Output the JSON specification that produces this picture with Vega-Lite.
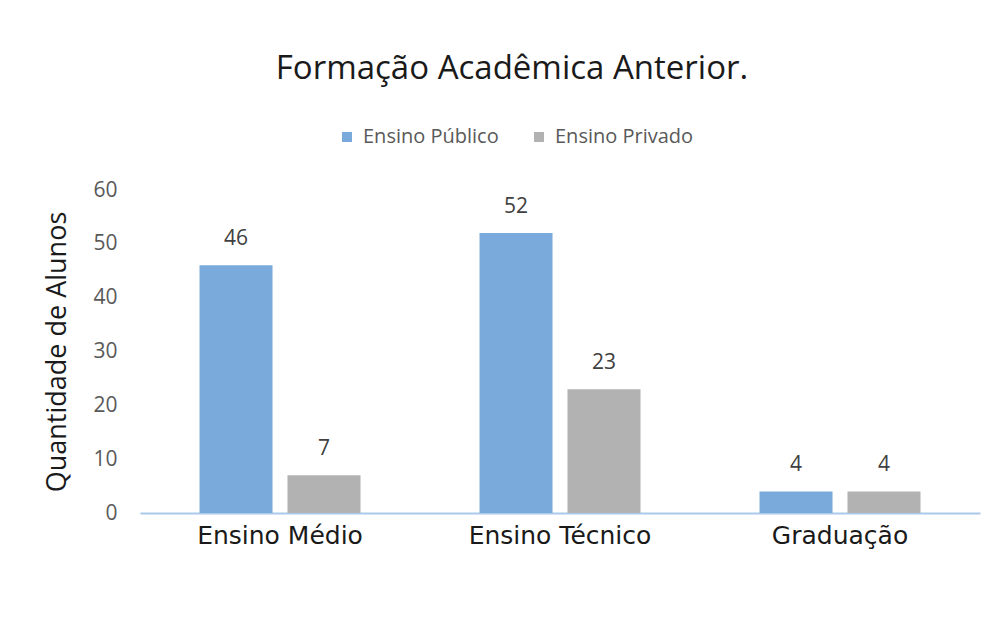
{
  "$schema": "https://vega.github.io/schema/vega-lite/v6.json",
  "width": 840,
  "height": 323,
  "autosize": "none",
  "padding": {"left": 140, "top": 190, "right": 15, "bottom": 115},
  "background": "white",
  "title": {
    "text": "Formação Acadêmica Anterior.",
    "anchor": "middle",
    "frame": "bounds",
    "offset": 41,
    "font": "Open Sans",
    "fontSize": 33,
    "fontWeight": "normal",
    "color": "#1a1a1a"
  },
  "data": {
    "values": [
      {"categoria": "Ensino Médio", "rede": "Ensino Público", "alunos": 46},
      {"categoria": "Ensino Médio", "rede": "Ensino Privado", "alunos": 7},
      {"categoria": "Ensino Técnico", "rede": "Ensino Público", "alunos": 52},
      {"categoria": "Ensino Técnico", "rede": "Ensino Privado", "alunos": 23},
      {"categoria": "Graduação", "rede": "Ensino Público", "alunos": 4},
      {"categoria": "Graduação", "rede": "Ensino Privado", "alunos": 4}
    ]
  },
  "encoding": {
    "x": {
      "field": "categoria",
      "type": "nominal",
      "sort": ["Ensino Médio", "Ensino Técnico", "Graduação"],
      "scale": {"paddingInner": 0.425, "paddingOuter": 0.2125},
      "axis": {
        "title": null,
        "labelAngle": 0,
        "ticks": false,
        "domainColor": "#a9c9ea",
        "domainWidth": 2,
        "labelFont": "DejaVu Sans",
        "labelFontSize": 25,
        "labelColor": "#1a1a1a",
        "labelPadding": 10,
        "labelLimit": 0,
        "labelOverlap": false
      }
    },
    "xOffset": {
      "field": "rede",
      "type": "nominal",
      "sort": ["Ensino Público", "Ensino Privado"],
      "scale": {"paddingInner": 0.17, "paddingOuter": 0}
    },
    "y": {
      "field": "alunos",
      "type": "quantitative",
      "scale": {"domain": [0, 60]},
      "axis": {
        "title": "Quantidade de Alunos",
        "values": [0, 10, 20, 30, 40, 50, 60],
        "grid": false,
        "domain": false,
        "ticks": false,
        "labelFont": "Open Sans",
        "labelFontSize": 21,
        "labelColor": "#595959",
        "labelPadding": 23,
        "titleFont": "Open Sans",
        "titleFontSize": 27,
        "titleFontWeight": "normal",
        "titleColor": "#1a1a1a",
        "titlePadding": 21
      }
    }
  },
  "layer": [
    {
      "mark": {"type": "bar"},
      "encoding": {
        "color": {
          "field": "rede",
          "type": "nominal",
          "sort": ["Ensino Público", "Ensino Privado"],
          "scale": {"domain": ["Ensino Público", "Ensino Privado"], "range": ["#7aa9dc", "#b2b2b2"]},
          "legend": {
            "title": null,
            "orient": "none",
            "direction": "horizontal",
            "legendX": 197,
            "legendY": -63,
            "symbolType": "square",
            "symbolSize": 100,
            "labelFont": "Open Sans",
            "labelFontSize": 20,
            "labelColor": "#595959",
            "columnPadding": 30,
            "labelOffset": 6
          }
        }
      }
    },
    {
      "mark": {"type": "text", "baseline": "bottom", "dy": -16, "font": "Open Sans", "fontSize": 21, "color": "#404040"},
      "encoding": {"text": {"field": "alunos", "type": "quantitative"}}
    }
  ],
  "config": {"view": {"stroke": null}}
}
